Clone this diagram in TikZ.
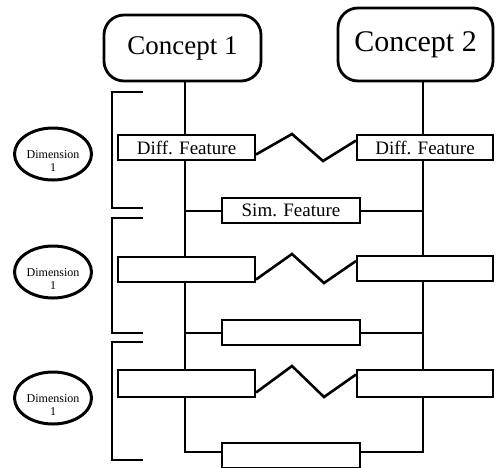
\documentclass[tikz,border=0pt]{standalone}
\usepackage{fontspec}
\setmainfont{Liberation Serif}
\usetikzlibrary{backgrounds,shapes.geometric}
\begin{document}
\begin{tikzpicture}[x=1pt,y=-1pt,
  concept/.style={draw,line width=2.8pt,rounded corners=20pt,fill=white,inner sep=0pt},
  feature/.style={draw,line width=2pt,fill=white,minimum height=25pt,inner sep=0pt,
    font=\fontsize{19}{19}\selectfont},
  dim/.style={draw,ellipse,line width=3pt,minimum width=77pt,minimum height=52pt,inner sep=0pt},
  dimtext/.style={align=center,inner sep=0pt,font=\fontsize{12}{13}\selectfont},
  link/.style={line width=2pt},
  zig/.style={line width=2.6pt,line join=miter},
  bracket/.style={line width=2pt}]
\useasboundingbox (0,0) rectangle (497,467);

% concepts
\node[concept,minimum width=157pt,minimum height=66pt,font=\fontsize{27}{27}\selectfont]
  (c1) at (182.5,48) {Concept 1};
\node[concept,minimum width=155pt,minimum height=73pt,font=\fontsize{30}{30}\selectfont]
  (c2) at (415.5,44.5) {Concept 2};

% feature boxes
\node[feature,minimum width=137pt] (d1L) at (186.5,147.5) {Diff. Feature};
\node[feature,minimum width=136pt] (d1R) at (425,147.5) {Diff. Feature};
\node[feature,minimum width=138pt] (s1) at (291,210.5) {Sim. Feature};
\node[feature,minimum width=137pt] (d2L) at (186.5,269.5) {};
\node[feature,minimum width=136pt] (d2R) at (425,268) {};
\node[feature,minimum width=138pt] (s2) at (291,332.5) {};
\node[feature,minimum width=137pt,minimum height=27pt] (d3L) at (186.5,383.5) {};
\node[feature,minimum width=136pt,minimum height=27pt] (d3R) at (425,383.5) {};
\node[feature,minimum width=138pt] (s3) at (291,455.5) {};

% dimensions
\foreach \n/\y in {1/154,2/272,3/398}{
  \node[dim] (dim\n) at (53,\y) {};
  \node[dimtext] (dimlabel\n) at ([yshift=-7pt]dim\n.center) {Dimension\\1};
}

% trunks from the concepts
\coordinate (t1) at (185,452);
\coordinate (t2) at (423,452);
\begin{scope}[on background layer]
  \draw[link] (c1.south -| t1) -- (t1) -- (s3.west |- t1);
  \draw[link] (c2.south -| t2) -- (t2) -- (s3.east |- t2);
  \draw[link] (s1.west -| t1) -- (s1.west);
  \draw[link] (s1.east) -- (s1.east -| t2);
  \draw[link] (s2.west -| t1) -- (s2.west);
  \draw[link] (s2.east) -- (s2.east -| t2);
\end{scope}

% zigzags between differing features
\draw[zig] ([yshift=-7pt]d1L.east) -- (292,134) -- (323,161) -- ([yshift=7pt]d1R.west);
\draw[zig] ([yshift=-10pt]d2L.east) -- (292,254) -- (324,283) -- ([yshift=7pt]d2R.west);
\draw[zig] ([yshift=-9pt]d3L.east) -- (292,366) -- (324,397) -- ([yshift=9pt]d3R.west);

% brackets grouping each dimension
\draw[bracket] (143,92) -- (112,92) -- (112,208) -- (143,208);
\draw[bracket] (143,218) -- (112,218) -- (112,333) -- (143,333);
\draw[bracket] (143,342) -- (112,342) -- (112,460) -- (143,460);
\end{tikzpicture}
\end{document}
